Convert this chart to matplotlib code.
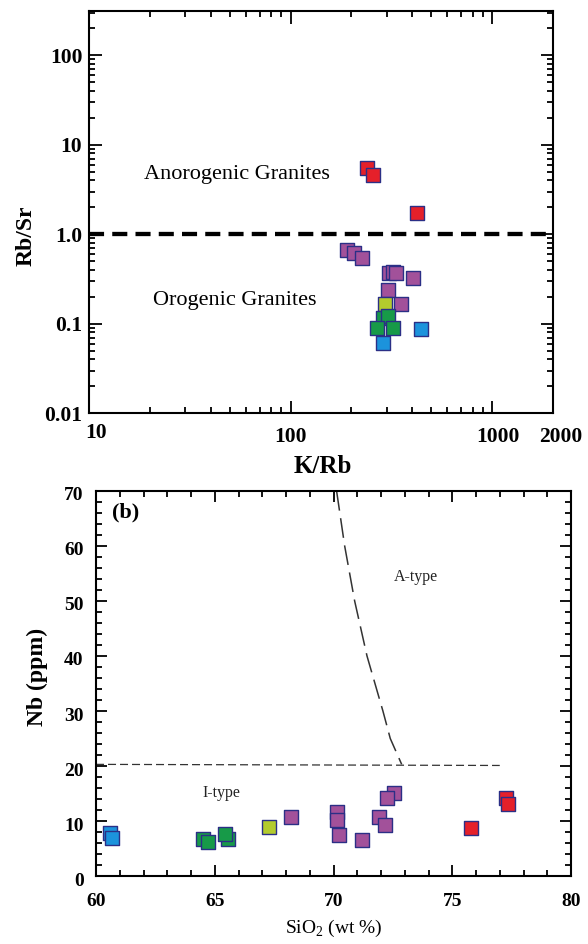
import matplotlib
matplotlib.use("Agg")
import matplotlib.pyplot as plt
import matplotlib.transforms as mtransforms
from matplotlib.ticker import LogLocator, NullFormatter, FixedLocator, MultipleLocator

plt.rcParams['font.family'] = ['Liberation Serif', 'DejaVu Serif']
plt.rcParams['mathtext.fontset'] = 'custom'
plt.rcParams['mathtext.rm'] = 'Liberation Serif'

# ---------------- data: top panel (K/Rb vs Rb/Sr) ----------------
kr_red = [238, 255, 423]
rs_red = [5.46, 4.6, 1.74]
kr_purple = [190, 206, 225, 309, 321, 333, 403, 305, 352]
rs_purple = [0.668, 0.613, 0.539, 0.372, 0.382, 0.367, 0.322, 0.239, 0.165]
kr_yg = [294]
rs_yg = [0.166]
kr_green = [287, 305, 267, 323]
rs_green = [0.116, 0.123, 0.089, 0.089]
kr_blue = [442, 286]
rs_blue = [0.087, 0.0615]

top_xticks = [10, 100, 1000, 2000]
top_xticklabels = ['10', '100', '1000', '2000']
top_yticks = [0.01, 0.1, 1, 10, 100]
top_yticklabels = ['0.01', '0.1', '1.0', '10', '100']
divider_x = [10, 2000]
divider_y = [1.0, 1.0]

# ---------------- data: bottom panel (SiO2 vs Nb) ----------------
si_red = [75.78, 77.26, 77.36]
nb_red = [8.67, 14.1, 13.1]
si_purple = [68.20, 70.13, 70.13, 70.25, 71.19, 71.93, 72.17, 72.53, 72.27]
nb_purple = [10.8, 11.7, 10.2, 7.45, 6.55, 10.67, 9.27, 15.15, 14.1]
si_yg = [67.30]
nb_yg = [8.85]
si_green = [64.49, 64.73, 65.57, 65.43]
nb_green = [6.67, 6.24, 6.67, 7.58]
si_blue = [60.59, 60.66]
nb_blue = [7.76, 6.85]

itype_x = [60, 77]
itype_y = [20.3, 20.1]
atype_x = [70.13, 70.47, 70.89, 71.41, 72.08, 72.39, 72.87]
atype_y = [70, 60, 50, 40, 30, 25, 20.3]

# ---------------- styles ----------------
c_red = '#E5202A'
c_purple = '#A2519A'
c_yg = '#B3CB2D'
c_green = '#179A48'
c_blue = '#1C93DC'
c_edge = '#2B2F86'
msize = 115

fig = plt.figure(figsize=(5.88, 9.44), dpi=100)


def shift(lab, dx, dy):
    lab.set_transform(lab.get_transform() +
                      mtransforms.ScaledTranslation(dx / 100, dy / 100, fig.dpi_scale_trans))


# ================= top panel =================
ax1 = fig.add_axes([0.1519, 0.5622, 0.7881, 0.4265])
ax1.set_xscale('log')
ax1.set_yscale('log')
ax1.set_xlim(10, 2000)
ax1.set_ylim(0.01, 315)

ax1.plot(divider_x, divider_y, color='black', lw=3.1, dashes=(3.5, 1.9), zorder=2)

for xs, ys, c in [(kr_purple, rs_purple, c_purple), (kr_yg, rs_yg, c_yg),
                  (kr_green, rs_green, c_green), (kr_blue, rs_blue, c_blue),
                  (kr_red, rs_red, c_red)]:
    ax1.scatter(xs, ys, s=msize, marker='s', facecolor=c, edgecolor=c_edge,
                linewidths=1.0, zorder=3)

ax1.text(18.7, 4.6, 'Anorogenic Granites', fontsize=16, ha='left', va='center')
ax1.text(20.8, 0.184, 'Orogenic Granites', fontsize=16, ha='left', va='center')

ax1.xaxis.set_major_locator(FixedLocator(top_xticks))
ax1.set_xticklabels(top_xticklabels, fontsize=15.5, fontweight='bold')
ax1.xaxis.set_minor_locator(LogLocator(base=10, subs=range(2, 10), numticks=20))
ax1.xaxis.set_minor_formatter(NullFormatter())
ax1.yaxis.set_major_locator(FixedLocator(top_yticks))
ax1.set_yticklabels(top_yticklabels, fontsize=15.5, fontweight='bold')
ax1.yaxis.set_minor_locator(LogLocator(base=10, subs=range(2, 10), numticks=20))
ax1.yaxis.set_minor_formatter(NullFormatter())

ax1.tick_params(which='both', direction='in', top=True, right=True, width=1.3)
ax1.tick_params(which='major', length=9)
ax1.tick_params(which='minor', length=4.5)
ax1.tick_params(axis='x', which='major', pad=10)
ax1.tick_params(axis='y', which='major', pad=5)
for sp in ax1.spines.values():
    sp.set_linewidth(1.5)

shifts = {'10': (7, 4), '100': (0, 0), '1000': (6, 0), '2000': (8, 0)}
for lab in ax1.get_xticklabels():
    dx, dy = shifts.get(lab.get_text(), (0, 0))
    shift(lab, dx, dy)

ax1.set_xlabel('K/Rb', fontsize=18, fontweight='bold', va='center')
ax1.set_ylabel('Rb/Sr', fontsize=17, fontweight='bold', va='center')
ax1.xaxis.set_label_coords(0.504, -0.133)
ax1.yaxis.set_label_coords(-0.137, 0.44)

# ================= bottom panel =================
ax2 = fig.add_axes([0.1633, 0.0720, 0.8078, 0.4079])
ax2.set_xlim(60, 80)
ax2.set_ylim(0, 70)

ax2.plot(itype_x, itype_y, color='#333333', lw=0.9, dashes=(6.4, 3.2), zorder=2)
ax2.plot(atype_x, atype_y, color='#333333', lw=1.1, dashes=(13, 5), zorder=2)

for xs, ys, c in [(si_purple, nb_purple, c_purple), (si_yg, nb_yg, c_yg),
                  (si_green, nb_green, c_green), (si_blue, nb_blue, c_blue),
                  (si_red, nb_red, c_red)]:
    ax2.scatter(xs, ys, s=msize, marker='s', facecolor=c, edgecolor=c_edge,
                linewidths=1.0, zorder=3)

ax2.text(61.26, 66, '(b)', fontsize=16, fontweight='bold', ha='center', va='center')
ax2.text(73.47, 54.4, 'A-type', fontsize=11.5, ha='center', va='center', color='#222222')
ax2.text(65.26, 15.1, 'I-type', fontsize=11.5, ha='center', va='center', color='#222222')

ax2.xaxis.set_major_locator(MultipleLocator(5))
ax2.xaxis.set_minor_locator(MultipleLocator(1))
ax2.yaxis.set_major_locator(MultipleLocator(10))
ax2.yaxis.set_minor_locator(MultipleLocator(2))
ax2.tick_params(which='both', direction='in', top=True, right=True, width=1.3,
                labelsize=14)
ax2.tick_params(which='major', length=8)
ax2.tick_params(which='minor', length=4.5)
ax2.tick_params(axis='x', which='major', pad=12)
ax2.tick_params(axis='y', which='major', pad=9)
fig.canvas.draw()
for lab in ax2.get_xticklabels():
    lab.set_fontweight('bold')
for lab in ax2.get_yticklabels():
    lab.set_fontweight('bold')
    shift(lab, 0, -3)
for sp in ax2.spines.values():
    sp.set_linewidth(1.5)

ax2.set_xlabel('SiO$_\\mathrm{2}$ (wt %)', fontsize=14, va='center')
ax2.set_ylabel('Nb (ppm)', fontsize=17, fontweight='bold', va='center')
ax2.xaxis.set_label_coords(0.5, -0.135)
ax2.yaxis.set_label_coords(-0.123, 0.518)

fig.savefig('out.png', dpi=100)
